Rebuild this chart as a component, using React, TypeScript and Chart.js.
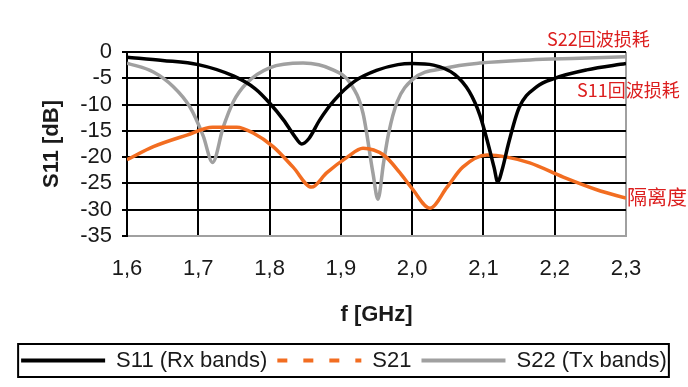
import React, { useEffect, useRef } from "react";
import { Chart, registerables } from "chart.js";

Chart.register(...registerables);

// ---- data ----
const S11_FREQ = [1.6, 1.65, 1.7, 1.75, 1.78, 1.8, 1.82, 1.835, 1.845, 1.855, 1.87, 1.89, 1.92, 1.95, 1.98, 2.0, 2.03, 2.06, 2.08, 2.095, 2.105, 2.115, 2.12, 2.127, 2.135, 2.15, 2.175, 2.2, 2.245, 2.3];
const S11_DB = [-1.0, -1.6, -2.4, -4.6, -7.0, -9.7, -13.0, -16.0, -17.5, -16.5, -13.0, -9.3, -5.5, -3.5, -2.4, -2.2, -2.5, -4.3, -7.5, -12.0, -16.7, -22.0, -24.7, -22.0, -17.5, -10.6, -6.6, -5.0, -3.4, -2.2];

const S21_FREQ = [1.6, 1.637, 1.684, 1.72, 1.754, 1.777, 1.805, 1.833, 1.859, 1.88, 1.909, 1.931, 1.96, 1.983, 2.0, 2.025, 2.049, 2.071, 2.105, 2.133, 2.165, 2.212, 2.259, 2.3];
const S21_DB = [-20.5, -18.0, -15.8, -14.3, -14.3, -15.4, -18.0, -21.9, -25.7, -23.0, -20.0, -18.3, -19.6, -23.0, -26.0, -29.7, -25.7, -21.9, -19.6, -20.0, -21.1, -23.8, -26.2, -27.8];

const S22_FREQ = [1.6, 1.637, 1.665, 1.688, 1.707, 1.72, 1.735, 1.749, 1.768, 1.8, 1.847, 1.889, 1.913, 1.931, 1.945, 1.952, 1.96, 1.967, 1.979, 2.0, 2.049, 2.095, 2.165, 2.235, 2.3];
const S22_DB = [-2.1, -3.8, -6.6, -10.4, -16.0, -21.0, -14.3, -9.5, -5.9, -3.0, -2.1, -3.4, -5.9, -11.6, -23.0, -28.0, -21.0, -15.5, -9.5, -5.3, -3.0, -2.1, -1.5, -1.2, -0.9];

const SERIES_LABELS = ["S11 (Rx bands)", "S21", "S22 (Tx bands)"];
const X_TICKS = [1.6, 1.7, 1.8, 1.9, 2.0, 2.1, 2.2, 2.3];
const Y_TICKS = [0, -5, -10, -15, -20, -25, -30, -35];
const X_TITLE = "f [GHz]";
const Y_TITLE = "S11 [dB]";
const ANNOTATIONS = ["S22回波损耗", "S11回波损耗", "隔离度"];

// ---- styles ----
const BLACK = "#000000";
const GREY = "#a0a0a0";
const ORANGE = "#f26d21";
const RED = "#dc1e1e";
const TEXT = "#1a1a1a";
const FONT = "'Liberation Sans', Arial, sans-serif";
const CJK = "'Noto Sans CJK SC', sans-serif";
const LEGEND_DASH = [[], [10, 16], []];

const toPoints = (xs: number[], ys: number[]) => xs.map((x, i) => ({ x, y: ys[i] }));

const legendBoxPlugin = {
  id: "legendBox",
  afterDraw(chart: any) {
    const lg = chart.legend;
    if (!lg || !lg.legendHitBoxes || !lg.legendHitBoxes.length) return;
    const hb = lg.legendHitBoxes;
    const first = hb[0];
    const last = hb[hb.length - 1];
    const cy = first.top + first.height / 2;
    const ctx = chart.ctx;
    ctx.save();
    ctx.strokeStyle = BLACK;
    ctx.lineWidth = 2;
    ctx.setLineDash([]);
    ctx.strokeRect(first.left - 3, cy - 16.5, last.left + last.width - first.left + 5, 33);
    ctx.restore();
  },
};

const annotationPlugin = {
  id: "annotations",
  afterDraw(chart: any) {
    const { ctx, chartArea } = chart;
    ctx.save();
    ctx.fillStyle = RED;
    ctx.textAlign = "left";
    ctx.textBaseline = "middle";
    ctx.font = `18px ${CJK}`;
    ctx.fillText(ANNOTATIONS[0], chartArea.right - 79, 39);
    ctx.fillText(ANNOTATIONS[1], chartArea.right - 49, 90);
    ctx.font = `20px ${CJK}`;
    ctx.fillText(ANNOTATIONS[2], chartArea.right + 1, 197);
    ctx.restore();
  },
};

export default function App() {
  const ref = useRef<HTMLCanvasElement | null>(null);

  useEffect(() => {
    document.body.style.margin = "0";
    if (!ref.current) return;
    const chart = new Chart(ref.current, {
      type: "line",
      data: {
        datasets: [
          {
            label: SERIES_LABELS[0],
            data: toPoints(S11_FREQ, S11_DB),
            borderColor: BLACK,
            backgroundColor: BLACK,
            borderWidth: 3.5,
            pointRadius: 0,
            cubicInterpolationMode: "monotone",
          },
          {
            label: SERIES_LABELS[1],
            data: toPoints(S21_FREQ, S21_DB),
            borderColor: ORANGE,
            backgroundColor: ORANGE,
            borderWidth: 3.5,
            pointRadius: 0,
            cubicInterpolationMode: "monotone",
          },
          {
            label: SERIES_LABELS[2],
            data: toPoints(S22_FREQ, S22_DB),
            borderColor: GREY,
            backgroundColor: GREY,
            borderWidth: 3.5,
            pointRadius: 0,
            cubicInterpolationMode: "monotone",
          },
        ],
      },
      options: {
        responsive: false,
        animation: false,
        layout: { padding: { top: 52, right: 0, bottom: 5.5, left: 0 } },
        scales: {
          x: {
            type: "linear",
            min: 1.6,
            max: 2.3,
            afterBuildTicks: (s: any) => {
              s.ticks = X_TICKS.map((v) => ({ value: v }));
            },
            afterFit: (s: any) => {
              s.height = 103.5;
            },
            ticks: {
              padding: 20,
              autoSkip: false,
              color: TEXT,
              font: { family: FONT, size: 22 },
              maxRotation: 0,
              callback: (v: any) => Number(v).toFixed(1).replace(".", ","),
            },
            grid: {
              color: (c: any) => (c.tick && Math.abs(c.tick.value - 2.3) < 1e-6 ? GREY : BLACK),
              lineWidth: 2,
              drawTicks: false,
            },
            border: { color: GREY, width: 2 },
            title: {
              display: true,
              text: X_TITLE,
              color: TEXT,
              font: { family: FONT, size: 22, weight: "bold" },
              padding: { top: 0, bottom: 11 },
            },
          },
          y: {
            type: "linear",
            min: -35,
            max: 0,
            afterBuildTicks: (s: any) => {
              s.ticks = Y_TICKS.map((v) => ({ value: v }));
            },
            afterFit: (s: any) => {
              s.width = 127;
            },
            ticks: {
              padding: 10,
              autoSkip: false,
              color: TEXT,
              font: { family: FONT, size: 22 },
              callback: (v: any) => String(v),
            },
            grid: {
              color: (c: any) => (c.tick && c.tick.value === -35 ? GREY : BLACK),
              tickColor: BLACK,
              lineWidth: 2,
              tickLength: 5,
            },
            border: { color: BLACK, width: 2 },
            title: {
              display: true,
              text: Y_TITLE,
              color: TEXT,
              font: { family: FONT, size: 22, weight: "bold" },
              padding: { top: 39, bottom: 0 },
            },
          },
          yRight: {
            type: "linear",
            position: "right",
            min: -35,
            max: 0,
            display: true,
            afterFit: (s: any) => {
              s.width = 62;
            },
            ticks: { display: false },
            grid: { display: false, drawTicks: false },
            border: { display: false },
          },
        },
        plugins: {
          tooltip: { enabled: false },
          legend: {
            position: "bottom",
            labels: {
              usePointStyle: true,
              pointStyle: "line",
              pointStyleWidth: 84,
              boxHeight: 22,
              padding: 10,
              color: TEXT,
              font: { family: FONT, size: 22 },
              generateLabels: (ch: any) => {
                const items = (Chart as any).defaults.plugins.legend.labels.generateLabels(ch);
                return items.map((it: any, i: number) => ({
                  ...it,
                  lineWidth: 4,
                  lineDash: LEGEND_DASH[i],
                  lineCap: "butt",
                  pointStyle: "line",
                  fontColor: TEXT,
                }));
              },
            },
          },
        },
      },
      plugins: [legendBoxPlugin, annotationPlugin],
    } as any);
    return () => chart.destroy();
  }, []);

  return (
    <div style={{ width: 688, height: 387 }}>
      <canvas ref={ref} width={688} height={387} />
    </div>
  );
}
